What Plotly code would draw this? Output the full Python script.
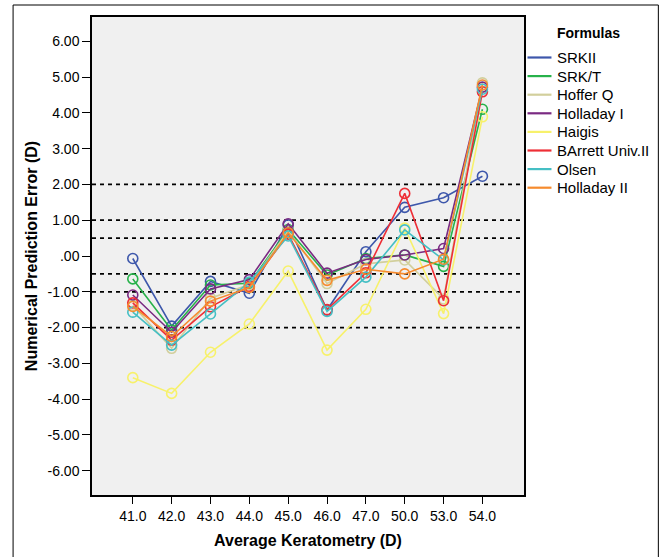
import plotly.graph_objects as go

categories = ["41.0", "42.0", "43.0", "44.0", "45.0", "46.0", "47.0", "50.0", "53.0", "54.0"]

srk_ii      = [-0.07, -1.96, -0.71, -1.04, 0.87, -1.51, 0.12, 1.36, 1.63, 2.23]
srk_t       = [-0.64, -2.07, -0.81, -0.76, 0.74, -0.53, -0.07, 0.03, -0.29, 4.10]
hoffer_q    = [-1.38, -2.58, -1.18, -0.80, 0.70, -0.77, -0.22, -0.11, -1.20, 4.84]
holladay_i  = [-1.09, -2.13, -0.92, -0.66, 0.90, -0.48, -0.10, 0.03, 0.21, 4.72]
haigis      = [-3.40, -3.84, -2.69, -1.90, -0.42, -2.63, -1.49, 0.78, -1.61, 3.89]
barrett     = [-1.31, -2.35, -1.42, -0.85, 0.61, -1.50, -0.47, 1.75, -1.25, 4.59]
olsen       = [-1.57, -2.49, -1.62, -0.73, 0.56, -1.55, -0.59, 0.73, -0.11, 4.66]
holladay_ii = [-1.41, -2.25, -1.26, -0.88, 0.65, -0.68, -0.37, -0.50, -0.09, 4.78]

series_names = ["SRKII", "SRK/T", "Hoffer Q", "Holladay I", "Haigis", "BArrett Univ.II", "Olsen", "Holladay II"]
series_values = [srk_ii, srk_t, hoffer_q, holladay_i, haigis, barrett, olsen, holladay_ii]
series_colors = ["#3D57AB", "#27B24A", "#D2CF9C", "#7A2A82", "#F7F16B", "#EE2E36", "#45BFC4", "#F68B2E"]

ref_lines = [2.0, 1.0, 0.5, -0.5, -1.0, -2.0]

y_tickvals = [6, 5, 4, 3, 2, 1, 0, -1, -2, -3, -4, -5, -6]
y_ticktext = ["6.00", "5.00", "4.00", "3.00", "2.00", "1.00", ".00", "-1.00", "-2.00",
              "-3.00", "-4.00", "-5.00", "-6.00"]

FONT = "Liberation Sans, Arial, sans-serif"

W, H = 662, 557
ML, MR, MT, MB = 92, 137.5, 17, 62
PW = W - ML - MR
PH = H - MT - MB


def px_x(p):
    return (p - ML) / PW


def px_y(p):
    return (H - MB - p) / PH


fig = go.Figure()
xidx = list(range(len(categories)))

for name, vals, col in zip(series_names, series_values, series_colors):
    fig.add_trace(go.Scatter(
        x=xidx, y=vals, mode="lines+markers", name=name, showlegend=False,
        line=dict(color=col, width=1.6),
        marker=dict(symbol="circle-open", size=10, color=col, line=dict(width=1.6, color=col)),
    ))

for v in ref_lines:
    fig.add_shape(type="line", xref="paper", x0=0, x1=1, yref="y", y0=v, y1=v,
                  line=dict(color="black", width=1.8, dash="4px,4px"), layer="below")

# outer frame
fig.add_shape(type="rect", xref="paper", yref="paper", x0=px_x(13), x1=px_x(659),
              y0=px_y(600), y1=px_y(5),
              line=dict(color="black", width=1), fillcolor="rgba(0,0,0,0)")

# legend (drawn manually to match item spacing)
fig.add_annotation(text="<b>Formulas</b>", xref="paper", yref="paper", x=px_x(556), y=px_y(33),
                   xanchor="left", yanchor="middle", showarrow=False,
                   font=dict(family=FONT, size=14, color="black"))
for i, (name, col) in enumerate(zip(series_names, series_colors)):
    yy = px_y(57.5 + 18.6 * i)
    fig.add_shape(type="line", xref="paper", yref="paper", x0=px_x(528), x1=px_x(552),
                  y0=yy, y1=yy, line=dict(color=col, width=2.2))
    fig.add_annotation(text=name, xref="paper", yref="paper", x=px_x(556), y=yy,
                       xanchor="left", yanchor="middle", showarrow=False,
                       font=dict(family=FONT, size=15, color="black"))

fig.update_layout(
    width=W, height=H,
    margin=dict(l=ML, r=MR, t=MT, b=MB),
    paper_bgcolor="white",
    plot_bgcolor="#F0F0F0",
    font=dict(family=FONT, size=14, color="black"),
    showlegend=False,
    xaxis=dict(
        range=[-1.05, 10.07], tickmode="array", tickvals=xidx, ticktext=categories,
        showgrid=False, zeroline=False, showline=True, linecolor="black", linewidth=1.5,
        mirror=True, ticks="outside", ticklen=7, tickcolor="black", automargin=False,
        tickfont=dict(family=FONT, size=14, color="black"),
        title=dict(text="<b>Average Keratometry (D)</b>", font=dict(family=FONT, size=16, color="black"),
                   standoff=12),
    ),
    yaxis=dict(
        range=[-6.68, 6.68], tickmode="array", tickvals=y_tickvals, ticktext=y_ticktext,
        showgrid=False, zeroline=False, showline=True, linecolor="black", linewidth=1.5,
        mirror=True, ticks="outside", ticklen=8, tickcolor="black", automargin=False,
        tickfont=dict(family=FONT, size=14, color="black"),
        title=dict(text="<b>Numerical Prediction Error (D)</b>", font=dict(family=FONT, size=16, color="black"),
                   standoff=6),
    ),
)

fig.write_html("out.html", config={"displayModeBar": False},
               post_script="document.body.style.margin='0';document.body.style.overflow='hidden';")
